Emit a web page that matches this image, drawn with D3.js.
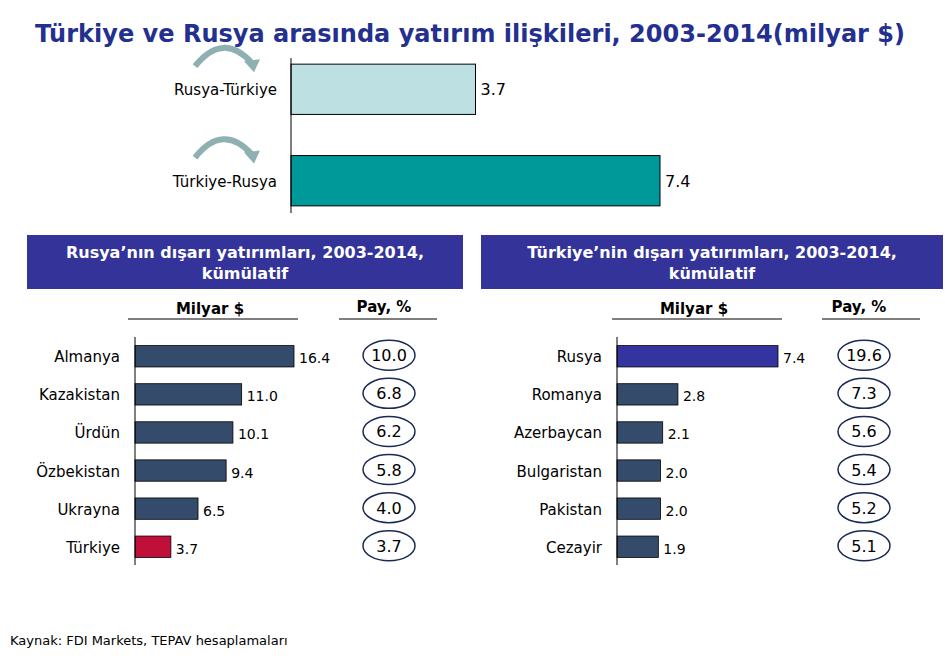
<!DOCTYPE html><html><head><meta charset="utf-8"><script src="https://cdn.jsdelivr.net/npm/d3@7"></script>
<style>body{margin:0;background:#fff}text{font-family:"DejaVu Sans",Verdana,sans-serif}</style></head><body><svg id="c" width="945" height="658"></svg>
<script>
const topCats=["Rusya-Türkiye","Türkiye-Rusya"], topVals=[3.7,7.4];
const ruCats=["Almanya","Kazakistan","Ürdün","Özbekistan","Ukrayna","Türkiye"], ruVals=[16.4,11.0,10.1,9.4,6.5,3.7], ruPay=["10.0","6.8","6.2","5.8","4.0","3.7"];
const trCats=["Rusya","Romanya","Azerbaycan","Bulgaristan","Pakistan","Cezayir"], trVals=[7.4,2.8,2.1,2.0,2.0,1.9], trPay=["19.6","7.3","5.6","5.4","5.2","5.1"];
const svg=d3.select("#c");
svg.append("text").attr("x",470).attr("y",42).attr("text-anchor","middle").attr("font-size",24).attr("font-weight","bold").attr("fill","#23308f").attr("textLength",870).text("Türkiye ve Rusya arasında yatırım ilişkileri, 2003-2014(milyar $)");
// top chart
const tx=d3.scaleLinear().domain([0,7.4]).range([291,660]);
const ty=d3.scaleBand().domain(topCats).range([55,215]).paddingInner(0.45).paddingOuter(0.1);
const topCols=["#bde0e3","#009999"];
topCats.forEach((c,i)=>{
 const y=ty(c),h=ty.bandwidth();
 svg.append("rect").attr("x",tx(0)).attr("y",y).attr("width",tx(topVals[i])-tx(0)).attr("height",h).attr("fill",topCols[i]).attr("stroke","#000");
 svg.append("text").attr("x",tx(topVals[i])+5).attr("y",y+h/2+6).attr("font-size",16).text(topVals[i].toFixed(1));
 svg.append("text").attr("x",277).attr("y",y+h/2+6).attr("text-anchor","end").attr("font-size",15).text(c);
 const ay=y-3;
 svg.append("path").attr("d",`M195,${ay+5} Q223,${ay-30} 252,${ay+2}`).attr("fill","none").attr("stroke","#8fb0b2").attr("stroke-width",6);
 svg.append("path").attr("d",`M244,${ay} L260,${ay-2} L254,${ay+11} Z`).attr("fill","#8fb0b2");
});
svg.append("line").attr("x1",291).attr("x2",291).attr("y1",58).attr("y2",213).attr("stroke","#000");
function panel(x0,x1,title,cats,vals,pay,ax,scaleMax,scaleEnd,cols,milC,payC,mu,pu){
 svg.append("rect").attr("x",x0).attr("y",235).attr("width",x1-x0).attr("height",54).attr("fill","#333399");
 title.forEach((t,i)=>svg.append("text").attr("x",(x0+x1)/2).attr("y",258+i*21).attr("text-anchor","middle").attr("fill","#fff").attr("font-size",16).attr("font-weight","bold").text(t));
 svg.append("text").attr("x",milC).attr("y",314).attr("text-anchor","middle").attr("font-size",15).attr("font-weight","bold").text("Milyar $");
 svg.append("line").attr("x1",mu[0]).attr("x2",mu[1]).attr("y1",319).attr("y2",319).attr("stroke","#000");
 svg.append("text").attr("x",payC).attr("y",312).attr("text-anchor","middle").attr("font-size",15).attr("font-weight","bold").text("Pay, %");
 svg.append("line").attr("x1",pu[0]).attr("x2",pu[1]).attr("y1",319).attr("y2",319).attr("stroke","#000");
 const x=d3.scaleLinear().domain([0,scaleMax]).range([ax,scaleEnd]);
 const y=d3.scaleBand().domain(cats).range([338,565]).paddingInner(0.44).paddingOuter(0.2);
 cats.forEach((c,i)=>{
  const yy=y(c),h=y.bandwidth(),cy=yy+h/2;
  svg.append("rect").attr("x",x(0)).attr("y",yy).attr("width",x(vals[i])-x(0)).attr("height",h).attr("fill",cols(i)).attr("stroke","#000").attr("stroke-width",0.8);
  svg.append("text").attr("x",x(vals[i])+5).attr("y",cy+7).attr("font-size",14).attr("font-family","Liberation Sans, Arial").text(vals[i].toFixed(1));
  svg.append("text").attr("x",ax-15).attr("y",cy+6).attr("text-anchor","end").attr("font-size",15).text(c);
  svg.append("ellipse").attr("cx",payC+5).attr("cy",cy-1).attr("rx",26).attr("ry",15).attr("fill","none").attr("stroke","#1a2a55").attr("stroke-width",1.5);
  svg.append("text").attr("x",payC+5).attr("y",cy+5).attr("text-anchor","middle").attr("font-size",16).text(pay[i]);
 });
 svg.append("line").attr("x1",ax).attr("x2",ax).attr("y1",337).attr("y2",565).attr("stroke","#000");
}
panel(27,463,["Rusya’nın dışarı yatırımları, 2003-2014,","kümülatif"],ruCats,ruVals,ruPay,135,16.4,294,i=>i===5?"#c0103a":"#344b6b",210,384,[128,298],[339,437]);
panel(481,943,["Türkiye’nin dışarı yatırımları, 2003-2014,","kümülatif"],trCats,trVals,trPay,617,7.4,778,i=>i===0?"#3434a0":"#344b6b",694,859,[612,782],[822,920]);
svg.append("text").attr("x",10).attr("y",645).attr("font-size",13).attr("font-family","Liberation Sans, Arial").text("Kaynak: FDI Markets,  TEPAV hesaplamaları");
</script></body></html>
